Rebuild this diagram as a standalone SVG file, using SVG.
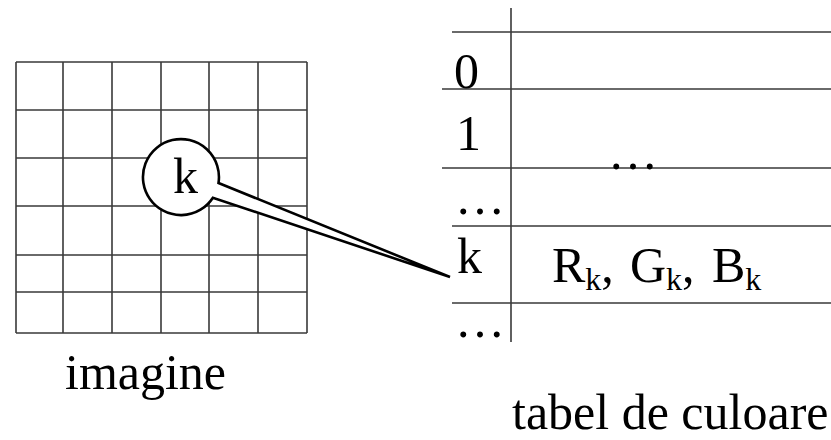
<svg xmlns="http://www.w3.org/2000/svg" width="831" height="440" viewBox="0 0 831 440">
<style>
.g{stroke:#3a3a3a;stroke-width:1.6;fill:none}
.t{font-family:"Liberation Serif","Times New Roman",serif;font-size:50px;fill:#000}
.s{font-size:32px}
.c{stroke:#000;stroke-width:2.6;fill:#fff;stroke-linejoin:miter}
</style>
<rect width="831" height="440" fill="#fff"/>
<g id="imagine">
<path class="g" d="M16 62V333M63 62V333M112 62V333M161 62V333M209 62V333M258 62V333M307 62V333M16 62H307M16 110H307M16 158H307M16 206H307M16 255H307M16 292H307M16 333H307"/>
<text class="t" x="65" y="389">imagine</text>
</g>
<g id="tabel">
<path class="g" d="M511 8V342M452 32H831M442 89H831M442 168H831M452 226H831M452 303H831"/>
<text class="t" x="454" y="88">0</text>
<text class="t" x="456" y="150">1</text>
<text class="t" x="455" y="214">…</text>
<text class="t" x="457" y="273">k</text>
<text class="t" x="455" y="337">…</text>
<text class="t" x="608" y="169">…</text>
<text class="t" y="282"><tspan x="552">R</tspan><tspan class="s" dy="8">k</tspan><tspan dy="-8">, </tspan><tspan x="630">G</tspan><tspan class="s" dy="8">k</tspan><tspan dy="-8">, </tspan><tspan x="712">B</tspan><tspan class="s" dy="8">k</tspan></text>
<text class="t" x="512" y="429">tabel de culoare</text>
</g>
<g id="connectors">
<path class="c" d="M218.5 183 L450 277 L212.9 197.7 A38 38 0 1 1 218.5 183 Z"/>
</g>
<g id="pixel-k">
<text class="t" x="173" y="193">k</text>
</g>
</svg>
